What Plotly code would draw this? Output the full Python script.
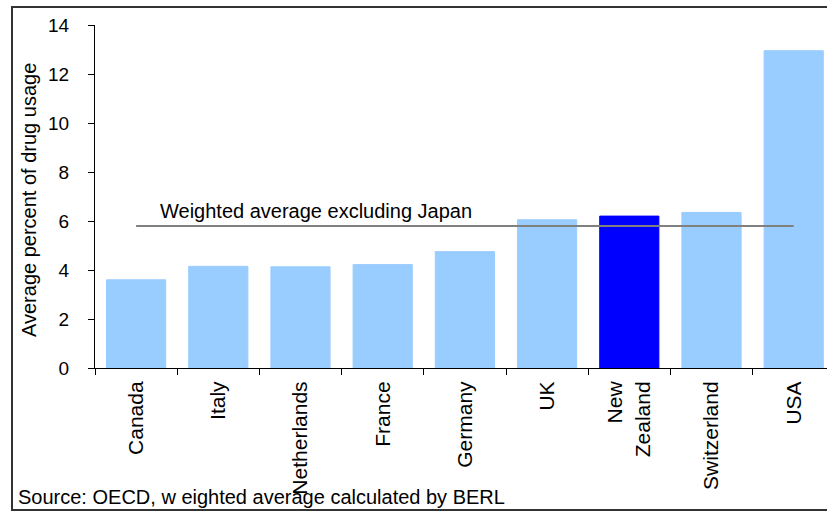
import plotly.graph_objects as go

countries = ["Canada", "Italy", "Netherlands", "France", "Germany", "UK",
             "New<br>Zealand", "Switzerland", "USA"]
usage = [3.6, 4.15, 4.13, 4.22, 4.75, 6.05, 6.2, 6.35, 12.95]
highlight = "New<br>Zealand"
weighted_avg = 5.8
avg_label = "Weighted average excluding Japan"
y_ticks = [0, 2, 4, 6, 8, 10, 12, 14]
source_text = "Source: OECD, w eighted average calculated by BERL"
y_title = "Average percent of drug usage"

FONT = "Liberation Sans, Arial, sans-serif"
W, H = 827, 512
ML, MR, MT, MB = 95, 0, 25, 144
PW = W - ML - MR
PH = H - MT - MB

def px_x(x):
    return (x - ML) / PW

def px_y(y):
    return (H - MB - y) / PH

colors = ["#0000FF" if c == highlight else "#99CCFF" for c in countries]

fig = go.Figure()
fig.add_trace(go.Bar(
    x=countries, y=usage,
    marker=dict(color=colors, line=dict(color=colors, width=1)),
    showlegend=False, hoverinfo="x+y",
))
fig.add_trace(go.Scatter(
    x=countries, y=[weighted_avg] * len(countries),
    mode="lines", line=dict(color="#808080", width=2),
    showlegend=False, hoverinfo="skip",
))

cat_w = 82.2
fig.update_layout(
    width=W, height=H,
    margin=dict(l=ML, r=MR, t=MT, b=MB, pad=0),
    paper_bgcolor="white", plot_bgcolor="white",
    bargap=0.28,
    font=dict(family=FONT, color="black"),
    xaxis=dict(
        type="category",
        range=[-0.5, -0.5 + PW / cat_w],
        showline=True, linecolor="black", linewidth=1,
        ticks="outside", ticklen=6, tickcolor="black", tickwidth=1,
        tickson="boundaries",
        tickangle=-90,
        ticklabelstandoff=4,
        tickfont=dict(size=21, family=FONT, color="black"),
        showgrid=False, zeroline=False, fixedrange=True,
    ),
    yaxis=dict(
        range=[0, 14],
        tickvals=y_ticks,
        ticktext=[str(v) for v in y_ticks],
        showline=True, linecolor="black", linewidth=1,
        ticks="outside", ticklen=6, tickcolor="black", tickwidth=1,
        ticklabelstandoff=15,
        tickfont=dict(size=19, family=FONT, color="black"),
        showgrid=False, zeroline=False, fixedrange=True,
    ),
    annotations=[
        dict(text=avg_label, xref="x", yref="y", x=0.27, y=6.4,
             xanchor="left", yanchor="middle", showarrow=False,
             font=dict(size=20, family=FONT, color="black")),
        dict(text=y_title, xref="paper", yref="paper",
             x=px_x(29), y=px_y(200), textangle=-90,
             xanchor="center", yanchor="middle", showarrow=False,
             font=dict(size=20, family=FONT, color="black")),
        dict(text=source_text, xref="paper", yref="paper",
             x=px_x(16), y=px_y(497),
             xanchor="left", yanchor="middle", showarrow=False,
             font=dict(size=20, family=FONT, color="black")),
    ],
    shapes=[
        dict(type="rect", xref="paper", yref="paper",
             x0=px_x(12), x1=px_x(900), y0=px_y(510), y1=px_y(7),
             line=dict(color="#333333", width=2), fillcolor="rgba(0,0,0,0)",
             layer="below"),
    ],
)

fig.write_html("out.html", config={"displayModeBar": False})
